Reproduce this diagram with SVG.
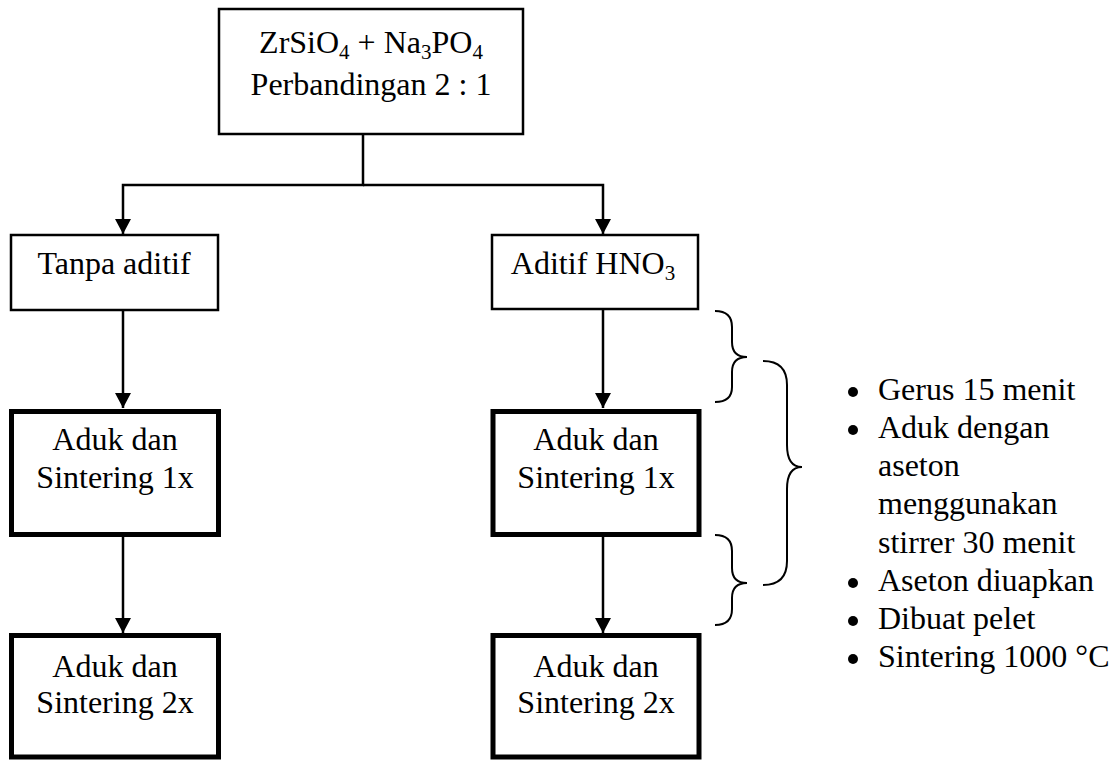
<svg xmlns="http://www.w3.org/2000/svg" width="1115" height="760" viewBox="0 0 1115 760">
<style>
text{font-family:"Liberation Serif","Times New Roman",serif;font-size:32px;fill:#000}
.c{text-anchor:middle}
.thin{fill:#fff;stroke:#000;stroke-width:2.5}
.thick{fill:#fff;stroke:#000;stroke-width:5}
.ln{fill:none;stroke:#000;stroke-width:2.5}
.br{fill:none;stroke:#000;stroke-width:2}
.sub{font-size:21px}
</style>
<defs>
<marker id="ah" markerUnits="userSpaceOnUse" markerWidth="16" markerHeight="16" viewBox="0 0 16 16" refX="15" refY="8" orient="auto">
<path d="M0,0 L15,8 L0,16 z" fill="#000"/>
</marker>
</defs>
<rect width="1115" height="760" fill="#fff"/>
<g id="connectors">
<path class="ln" d="M363,134 V185 H123 V234" marker-end="url(#ah)"/>
<path class="ln" d="M363,185 H603 V234" marker-end="url(#ah)"/>
<path class="ln" d="M123,310 V408" marker-end="url(#ah)"/>
<path class="ln" d="M123,535 V633" marker-end="url(#ah)"/>
<path class="ln" d="M603,309 V408" marker-end="url(#ah)"/>
<path class="ln" d="M603,535 V633" marker-end="url(#ah)"/>
</g>
<g id="n-start">
<rect class="thin" x="219" y="9" width="304" height="125"/>
<text class="c" x="371" y="53">ZrSiO<tspan class="sub" dy="6">4</tspan><tspan dy="-6"> + Na</tspan><tspan class="sub" dy="6">3</tspan><tspan dy="-6">PO</tspan><tspan class="sub" dy="6">4</tspan></text>
<text class="c" x="371" y="95">Perbandingan 2 : 1</text>
</g>
<g id="n-tanpa">
<rect class="thin" x="11" y="235" width="207" height="75"/>
<text class="c" x="114" y="274">Tanpa aditif</text>
</g>
<g id="n-aditif">
<rect class="thin" x="492" y="235" width="206" height="74"/>
<text class="c" x="593" y="274">Aditif HNO<tspan class="sub" dy="6">3</tspan></text>
</g>
<g id="n-left1">
<rect class="thick" x="11.5" y="411.5" width="207" height="123"/>
<text class="c" x="115" y="450">Aduk dan</text>
<text class="c" x="115" y="488">Sintering 1x</text>
</g>
<g id="n-left2">
<rect class="thick" x="11.5" y="635.5" width="207" height="121.5"/>
<text class="c" x="115" y="677">Aduk dan</text>
<text class="c" x="115" y="713">Sintering 2x</text>
</g>
<g id="n-right1">
<rect class="thick" x="493" y="411.5" width="206" height="123"/>
<text class="c" x="596" y="450">Aduk dan</text>
<text class="c" x="596" y="488">Sintering 1x</text>
</g>
<g id="n-right2">
<rect class="thick" x="493" y="635.5" width="206" height="121.5"/>
<text class="c" x="596" y="677">Aduk dan</text>
<text class="c" x="596" y="713">Sintering 2x</text>
</g>
<g id="braces">
<path class="br" d="M715,311 Q732,311 732,327 V342 Q732,357 747,357 Q732,357 732,372 V387 Q732,402 715,402"/>
<path class="br" d="M715,535 Q732,535 732,551 V568 Q732,583 747,583 Q732,583 732,598 V609 Q732,625 715,625"/>
<path class="br" d="M763,361 Q787,361 787,385 V445 Q787,467 802,467 Q787,467 787,489 V561 Q787,585 763,585"/>
</g>
<g id="notes">
<circle cx="853" cy="392" r="5"/>
<circle cx="853" cy="430" r="5"/>
<circle cx="853" cy="583" r="5"/>
<circle cx="853" cy="621" r="5"/>
<circle cx="853" cy="659" r="5"/>
<text x="878" y="400">Gerus 15 menit</text>
<text x="878" y="438">Aduk dengan</text>
<text x="878" y="476">aseton</text>
<text x="878" y="514">menggunakan</text>
<text x="878" y="553">stirrer 30 menit</text>
<text x="878" y="591">Aseton diuapkan</text>
<text x="878" y="629">Dibuat pelet</text>
<text x="878" y="667">Sintering 1000 °C</text>
</g>
</svg>
